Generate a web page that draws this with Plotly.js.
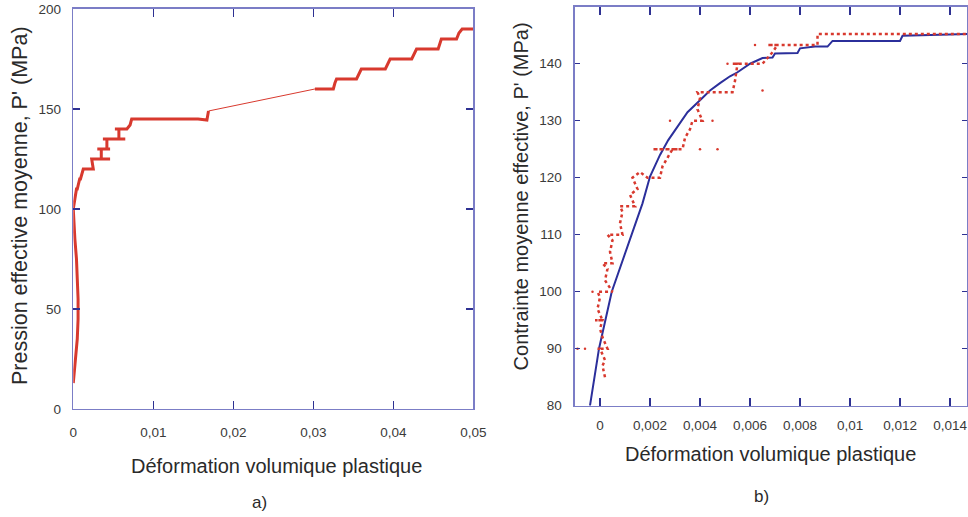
<!DOCTYPE html>
<html>
<head>
<meta charset="utf-8">
<script src="https://cdn.plot.ly/plotly-3.0.1.min.js"></script>
<style>html,body{margin:0;padding:0;background:#fff}#chart{width:968px;height:517px}</style>
</head>
<body>
<div id="chart"></div>
<script>
// ---- Panel a) : mean effective pressure vs plastic volumetric strain ----
const aLowStrain = [0.0000, 0.0001, 0.0003, 0.0005, 0.0006, 0.0006, 0.0005, 0.0004, 0.0002, 0.0001, 0.0000, 0.0002, 0.0004, 0.0005, 0.0008, 0.0009, 0.00125, 0.0025, 0.0023, 0.0046, 0.0035, 0.0035, 0.0030, 0.0046, 0.0042, 0.0042, 0.0037, 0.0065, 0.0057, 0.0057, 0.0052, 0.0067, 0.0071, 0.0073, 0.0110, 0.0156, 0.0167, 0.0169];
const aLowP      = [13, 18, 25, 35, 45, 55, 65, 75, 85, 92, 100, 105, 110, 110, 115, 115, 120, 120, 125, 125, 125, 130, 130, 130, 130, 135, 135, 135, 135, 140, 140, 140, 142, 145, 145, 145, 144.5, 149];
const aLinkStrain = [0.0169, 0.0302];
const aLinkP      = [149, 160];
const aUpStrain = [0.0302, 0.0325, 0.0327, 0.0329, 0.0354, 0.0357, 0.0360, 0.0390, 0.0393, 0.0396, 0.0423, 0.0426, 0.0429, 0.0456, 0.0458, 0.0460, 0.0479, 0.0482, 0.0486, 0.0500];
const aUpP      = [160, 160, 163, 165, 165, 168, 170, 170, 173, 175, 175, 178, 180, 180, 183, 185, 185, 188, 190, 190];

// ---- Panel b) : experiment (red) and model (blue) ----
const bExpStrain = [0.0002, 0.0001, 0.0002, 0.0000, -0.0001, 0.0003, 0.0001, 0.0000, 0.0001, -0.0002, 0.0001, -0.0001, 0.0000, -0.0001, 0.0005, 0.0002, 0.0003, 0.0001, 0.0005, 0.0004, 0.0005, 0.0003, 0.0009, 0.0008, 0.0009, 0.0008, 0.0014, 0.0012, 0.0015, 0.0013, 0.0016, 0.0019, 0.0024, 0.0025, 0.0027, 0.0029, 0.0031, 0.0021, 0.0033, 0.0034, 0.0036, 0.0037, 0.0041, 0.0039, 0.0040, 0.0039, 0.0047, 0.0053, 0.0054, 0.0055, 0.0053, 0.0065, 0.0067, 0.0069, 0.0071, 0.0067, 0.0087, 0.0087, 0.0147];
const bExpP      = [85, 87, 88, 90, 90, 90, 92, 93.5, 95, 95, 95, 97, 99, 100, 100, 102, 104, 105, 105, 107, 109, 110, 110, 112, 114, 115, 115, 117, 118, 120, 121, 120, 120, 122, 123.5, 125, 125, 125, 125, 127, 128.5, 130, 130, 132, 134, 135, 135, 135, 137, 140, 140, 140, 141, 142, 143.3, 143.3, 143.3, 145.2, 145.2];
const bStrayStrain = [-0.0009, -0.0006, -0.0003, 0.0028, 0.0045, 0.0040, 0.0047, 0.0065, 0.0051, 0.0062];
const bStrayP      = [90, 90, 100, 130, 130, 125, 125, 135.3, 140, 143.3];
const bModelStrain = [-0.0004, -0.00004, 0.00047, 0.0009, 0.0013, 0.0017, 0.0020, 0.0024, 0.00273, 0.0031, 0.0035, 0.0040, 0.0044, 0.0048, 0.0052, 0.0055, 0.0060, 0.0065, 0.0069, 0.0070, 0.0079, 0.0080, 0.0086, 0.0091, 0.0093, 0.0120, 0.0121, 0.0147];
const bModelP      = [80, 90, 100, 105.5, 110.5, 115.5, 120.2, 124, 126.6, 129, 131.5, 133.6, 135.3, 136.6, 137.8, 138.5, 140, 141, 141.1, 141.8, 141.9, 142.7, 143, 143, 144, 144, 144.9, 145.2];

const RED = '#d8392e', BLUE = '#2b2f9b';

const traces = [
  {x: aLowStrain, y: aLowP, xaxis: 'x', yaxis: 'y', mode: 'lines', line: {color: RED, width: 3}},
  {x: aLinkStrain, y: aLinkP, xaxis: 'x', yaxis: 'y', mode: 'lines', line: {color: RED, width: 1}},
  {x: aUpStrain, y: aUpP, xaxis: 'x', yaxis: 'y', mode: 'lines', line: {color: RED, width: 3}},
  {x: bModelStrain, y: bModelP, xaxis: 'x2', yaxis: 'y2', mode: 'lines', line: {color: BLUE, width: 2}},
  {x: bExpStrain, y: bExpP, xaxis: 'x2', yaxis: 'y2', mode: 'lines', line: {color: RED, width: 2.5, dash: 'dot'}},
  {x: bStrayStrain, y: bStrayP, xaxis: 'x2', yaxis: 'y2', mode: 'markers', marker: {color: RED, size: 2.5}}
];

const axBase = {
  showgrid: false, zeroline: false, showline: true, linecolor: '#7b7dc6', linewidth: 1.5,
  mirror: 'ticks', ticks: 'inside', tickwidth: 1.5, tickcolor: '#2e3192',
  tickfont: {family: 'Liberation Sans, Arial, sans-serif', size: 13.5, color: '#3a3a3a'}
};

const layout = {
  width: 968, height: 517, margin: {l: 0, r: 0, t: 0, b: 0},
  paper_bgcolor: '#ffffff', plot_bgcolor: '#ffffff', showlegend: false,
  separators: ', ',
  font: {family: 'Liberation Sans, Arial, sans-serif', color: '#2a2a2a'},
  xaxis: Object.assign({}, axBase, {domain: [0.0757, 0.4890], range: [0, 0.05], tick0: 0, dtick: 0.01, ticklen: 8, ticklabelstandoff: 10, anchor: 'y'}),
  yaxis: Object.assign({}, axBase, {domain: [0.2089, 0.9826], range: [0, 200], tick0: 0, dtick: 50, ticklen: 7, ticklabelstandoff: 8, anchor: 'x'}),
  xaxis2: Object.assign({}, axBase, {domain: [0.594, 0.999], range: [-0.001, 0.01468], tick0: 0, dtick: 0.002, ticklen: 8, ticklabelstandoff: 7, anchor: 'y2'}),
  yaxis2: Object.assign({}, axBase, {domain: [0.2153, 0.987], range: [80, 150], tick0: 80, dtick: 10, ticklen: 5, ticklabelstandoff: 9, anchor: 'x2'}),
  annotations: [
    {text: 'Déformation volumique plastique', xref: 'paper', yref: 'paper', x: 0.2856, y: 0.0986, xanchor: 'center', yanchor: 'middle', showarrow: false, font: {size: 20}},
    {text: 'Déformation volumique plastique', xref: 'paper', yref: 'paper', x: 0.7963, y: 0.1219, xanchor: 'center', yanchor: 'middle', showarrow: false, font: {size: 20}},
    {text: 'Pression effective moyenne, P\' (MPa)', xref: 'paper', yref: 'paper', x: 0.0207, y: 0.6015, xanchor: 'center', yanchor: 'middle', textangle: -90, showarrow: false, font: {size: 21.5}},
    {text: 'Contrainte moyenne effective, P\' (MPa)', xref: 'paper', yref: 'paper', x: 0.5382, y: 0.62, xanchor: 'center', yanchor: 'middle', textangle: -90, showarrow: false, font: {size: 20}},
    {text: 'a)', xref: 'paper', yref: 'paper', x: 0.2676, y: 0.0280, xanchor: 'center', yanchor: 'middle', showarrow: false, font: {size: 17}},
    {text: 'b)', xref: 'paper', yref: 'paper', x: 0.7867, y: 0.0406, xanchor: 'center', yanchor: 'middle', showarrow: false, font: {size: 17}}
  ]
};

Plotly.newPlot('chart', traces, layout, {staticPlot: true, displayModeBar: false});
</script>
</body>
</html>
